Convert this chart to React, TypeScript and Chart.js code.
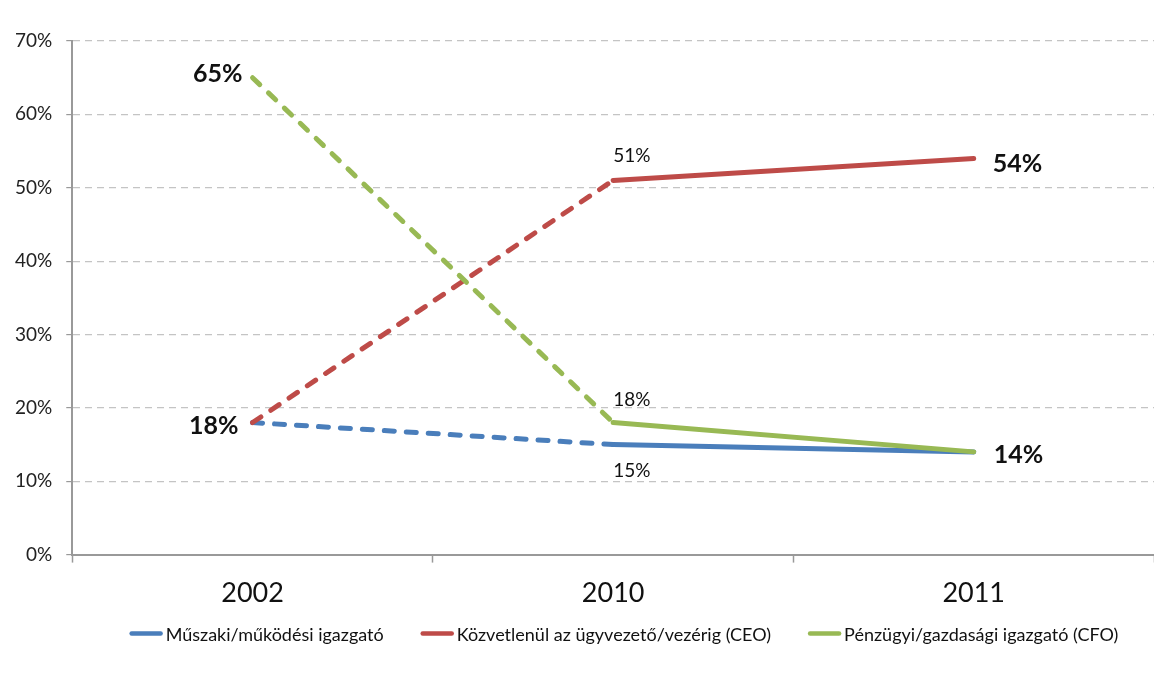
import { useEffect, useRef } from "react";
import { Chart, registerables } from "chart.js";

Chart.register(...registerables);

// Years on the category axis
const years = ["2002", "2010", "2011"];

// Series names
const seriesNames = [
  "Műszaki/működési igazgató",
  "Közvetlenül az ügyvezető/vezérig (CEO)",
  "Pénzügyi/gazdasági igazgató (CFO)",
];

// Share of respondents (%) per year
const technicalDirector = [18, 15, 14];
const ceoDirect = [18, 51, 54];
const cfoDirector = [65, 18, 14];

// Value axis
const yMin = 0;
const yMax = 70;
const yStep = 10;

const colors = ["#4A7EBB", "#BE4B48", "#98B954"];
const FONT = "Lato, 'Open Sans', sans-serif";

// Which point carries a value label and how it is placed next to the point
type LabelSpot = {
  dataset: number;
  index: number;
  bold: boolean;
  align: CanvasTextAlign;
  dx: number;
  dy: number;
};
const labelSpots: LabelSpot[] = [
  { dataset: 2, index: 0, bold: true, align: "right", dx: -10, dy: -4 },
  { dataset: 1, index: 0, bold: true, align: "right", dx: -14, dy: 3 },
  { dataset: 1, index: 1, bold: false, align: "left", dx: 0, dy: -25 },
  { dataset: 1, index: 2, bold: true, align: "left", dx: 19, dy: 6 },
  { dataset: 2, index: 1, bold: false, align: "left", dx: 0, dy: -23 },
  { dataset: 0, index: 1, bold: false, align: "left", dx: 0, dy: 26 },
  { dataset: 2, index: 2, bold: true, align: "left", dx: 20, dy: 3 },
];

const valueLabels = {
  id: "valueLabels",
  afterDatasetsDraw(chart: Chart) {
    const ctx = chart.ctx;
    ctx.save();
    ctx.fillStyle = "#111";
    ctx.textBaseline = "middle";
    for (const s of labelSpots) {
      const meta = chart.getDatasetMeta(s.dataset);
      const pt = meta.data[s.index];
      const value = chart.data.datasets[s.dataset].data[s.index] as number;
      ctx.font = s.bold ? `bold 25px ${FONT}` : `19px ${FONT}`;
      ctx.textAlign = s.align;
      ctx.fillText(`${value}%`, pt.x + s.dx, pt.y + s.dy);
    }
    ctx.restore();
  },
};

// Legend row under the axis: short coloured line followed closely by the name
const LEGEND_LINE = 33;
const LEGEND_TEXT_GAP = 3;
const LEGEND_ITEM_GAP = 37;
const LEGEND_OFFSET = 81;
const LEGEND_SHIFT = 47;
const legendRow = {
  id: "legendRow",
  afterDraw(chart: Chart) {
    const ctx = chart.ctx;
    ctx.save();
    ctx.font = `18px ${FONT}`;
    ctx.textBaseline = "middle";
    ctx.textAlign = "left";
    const items = chart.data.datasets.map((d) => ({
      text: d.label as string,
      color: d.borderColor as string,
    }));
    const widths = items.map((it) => LEGEND_LINE + LEGEND_TEXT_GAP + ctx.measureText(it.text).width);
    const total = widths.reduce((a, b) => a + b, 0) + LEGEND_ITEM_GAP * (items.length - 1);
    let x = (chart.width - total) / 2 + LEGEND_SHIFT;
    const y = chart.chartArea.bottom + LEGEND_OFFSET;
    items.forEach((it, i) => {
      ctx.strokeStyle = it.color;
      ctx.lineWidth = 4.5;
      ctx.lineCap = "round";
      ctx.beginPath();
      ctx.moveTo(x + 2, y - 2);
      ctx.lineTo(x + LEGEND_LINE - 2, y - 2);
      ctx.stroke();
      ctx.fillStyle = "#111";
      ctx.fillText(it.text, x + LEGEND_LINE + LEGEND_TEXT_GAP, y);
      x += widths[i] + LEGEND_ITEM_GAP;
    });
    ctx.restore();
  },
};

export default function App() {
  const canvasRef = useRef<HTMLCanvasElement>(null);

  useEffect(() => {
    if (!canvasRef.current) return;
    const seriesValues = [technicalDirector, ceoDirect, cfoDirector];
    const drawOrder = [2, 1, 0];
    const chart = new Chart(canvasRef.current, {
      type: "line",
      data: {
        labels: years,
        datasets: seriesValues.map((values, i) => ({
          label: seriesNames[i],
          data: values,
          borderColor: colors[i],
          backgroundColor: colors[i],
          borderWidth: 5,
          pointRadius: 0,
          pointHoverRadius: 0,
          tension: 0,
          order: drawOrder[i],
          borderCapStyle: "round" as const,
          borderJoinStyle: "round" as const,
          segment: {
            borderDash: (c: any) => (c.p0DataIndex === 0 ? [10, 12] : undefined),
          },
        })),
      },
      options: {
        animation: false,
        responsive: true,
        maintainAspectRatio: false,
        layout: { padding: { left: 1, right: 0, top: 41, bottom: 76 } },
        plugins: {
          tooltip: { enabled: false },
          legend: { display: false },
        },
        scales: {
          x: {
            offset: true,
            grid: {
              offset: true,
              drawOnChartArea: false,
              drawTicks: true,
              tickLength: 8,
              tickColor: "#999",
              tickWidth: 1.5,
            },
            border: { color: "#999", width: 2 },
            ticks: {
              color: "#111",
              padding: 14,
              font: { family: FONT, size: 27 },
            },
          },
          y: {
            min: yMin,
            max: yMax,
            ticks: {
              stepSize: yStep,
              color: "#222",
              padding: 14,
              font: { family: FONT, size: 19 },
              callback: (v: any) => `${v}%`,
            },
            grid: {
              color: "#c4c4c4",
              lineWidth: 1.2,
              tickLength: 6,
              tickColor: "#999",
              tickBorderDash: [],
            },
            border: { color: "#999", width: 2, dash: [7, 5] },
          },
        },
      },
      plugins: [valueLabels, legendRow],
    });
    return () => chart.destroy();
  }, []);

  return (
    <div style={{ position: "absolute", left: 0, top: 0, width: 1154, height: 699, background: "#fff" }}>
      <canvas ref={canvasRef} />
    </div>
  );
}
